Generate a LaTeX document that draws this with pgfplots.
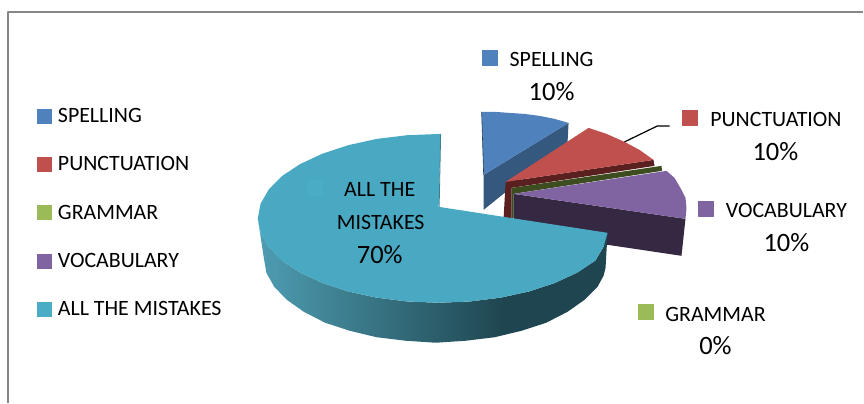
\documentclass[border=0pt]{standalone}
\usepackage{fontspec}
\setmainfont{Carlito}
\usepackage{pgfplots}
\pgfplotsset{compat=1.18}

% office 2007 palette
\definecolor{cblue}{HTML}{4F81BD}
\definecolor{cred}{HTML}{C0504D}
\definecolor{cgreen}{HTML}{9BBB59}
\definecolor{cpurple}{HTML}{8064A2}
\definecolor{cteal}{HTML}{4BACC6}
\definecolor{ctealtop}{HTML}{49A9C3}
\definecolor{wblue}{HTML}{35587F}
\definecolor{wred}{HTML}{5A1F1F}
\definecolor{wgreen}{HTML}{3E4D20}
\definecolor{wpurple}{HTML}{352842}
\definecolor{sidea}{HTML}{4E9DB2}
\definecolor{sideb}{HTML}{1F4650}
\pgfdeclarehorizontalshading{tealside}{100bp}{color(0bp)=(sidea); color(25bp)=(sidea); color(60bp)=(sideb); color(100bp)=(sideb)}

\newcommand{\legsize}{\fontsize{21.9}{24}\selectfont}
\newcommand{\pctsize}{\fontsize{26.5}{30}\selectfont}

\begin{document}
\begin{tikzpicture}
\begin{axis}[
  scale only axis,
  width=864pt, height=403pt,
  xmin=0, xmax=864,
  ymin=0, ymax=403,
  y dir=reverse,
  hide axis,
  clip=false,
  legend style={
    at={(axis cs:37,108.5)}, anchor=north west,
    draw=none, fill=none, inner sep=0pt, outer sep=0pt,
    font=\legsize, row sep=32.6pt,
    nodes={inner sep=0pt, outer sep=0pt},
  },
  legend cell align=left,
  legend image code/.code={
    \fill[#1, draw=none] (0pt,-7.5pt) rectangle (15pt,7.5pt);
    \path[draw=none, fill=none] (0pt,0pt) -- (21pt,0pt);
  },
  every axis plot/.append style={line join=round},
]

% page extent
\path (axis cs:0,0) -- (axis cs:864,403);

% frame, top and left only
\addplot[color=black!47, line width=1.3pt, forget plot]
  coordinates {(8,403) (8,12) (864,12)};

% spelling slice
\addplot[fill=wblue, draw=none, forget plot]
  coordinates {(484,175) (569,123) (568,142) (484,210)} -- cycle;
\addplot[fill=cblue, draw=none, forget plot]
  coordinates {(484,175) (482,112) (496,112) (510,113) (525,114) (540,116) (555,119) (569,123)} -- cycle;
\addplot[color=wblue!70!black, line width=0.6pt, forget plot]
  coordinates {(482,112) (484,175)};

% punctuation slice
\addplot[fill=wred, draw=none, forget plot]
  coordinates {(506,182) (654,160) (655,166) (512,188) (512,218) (504,218)} -- cycle;
\addplot[fill=cred, draw=none, forget plot]
  coordinates {(506,182) (589,128) (607,134) (625,142) (640,150) (654,160)} -- cycle;

% grammar slice, only the wall shows at 0%
\addplot[fill=wgreen, draw=none, forget plot]
  coordinates {(512,188) (662,166) (662.5,171) (514,194) (514,218) (512,218)} -- cycle;

% vocabulary slice
\addplot[fill=wpurple, draw=none, forget plot]
  coordinates {(514,194) (686,219) (682,256) (514,231)} -- cycle;
\addplot[fill=cpurple, draw=none, forget plot]
  coordinates {(514,194) (667,171) (675,178) (682,190) (686,198) (687,208) (686,219)} -- cycle;

% all the mistakes, side then top
\addplot[shade, shading=tealside, draw=none, forget plot]
  coordinates {(258,218.5) (260.8,233.2) (269,247.4) (282.2,260.8) (300.3,272.8) (322.7,283.2)
    (348.5,291.7) (377,297.9) (407.6,301.7) (439,303) (470.4,301.7) (501,297.9) (529.5,291.7)
    (555.3,283.2) (577.7,272.8) (595.8,260.8) (604,247) (608,233)
    (606,268) (604,276) (598,287) (585,300) (568,312) (546.6,323) (522,331) (495,337.5)
    (466,341) (436,343) (406,341) (377,337.5) (350,331) (325.4,323) (304,312) (287,300)
    (274.4,287) (266.6,273) (264,258)} -- cycle;
\addplot[fill=ctealtop, draw=none, forget plot]
  coordinates {(439,207) (441,134) (407.6,135.3) (377,139) (348.5,145.3) (322.7,153.8)
    (300.3,164.2) (282.2,176.2) (269,189.6) (260.8,203.8) (258,218.5) (260.8,233.2) (269,247.4)
    (282.2,260.8) (300.3,272.8) (322.7,283.2) (348.5,291.7) (377,297.9) (407.6,301.7) (439,303)
    (470.4,301.7) (501,297.9) (529.5,291.7) (555.3,283.2) (577.7,272.8) (595.8,260.8) (604,247)
    (608,233)} -- cycle;
\addplot[color=sidea!80!black, line width=0.8pt, forget plot]
  coordinates {(441,134) (439.5,207)};

% leader line
\addplot[color=black, line width=1.2pt, forget plot]
  coordinates {(625,142) (658,126) (670,126)};

% keys beside the data labels
\addplot[only marks, mark=square*, mark size=7.5pt, color=cblue, forget plot]
  coordinates {(490.5,57.5)};
\addplot[only marks, mark=square*, mark size=7.5pt, color=cred, forget plot]
  coordinates {(690.5,117.5)};
\addplot[only marks, mark=square*, mark size=7.5pt, color=cpurple, forget plot]
  coordinates {(706.5,208.5)};
\addplot[only marks, mark=square*, mark size=7.5pt, color=cgreen, forget plot]
  coordinates {(646.5,311.5)};
\addplot[only marks, mark=square*, mark size=7.5pt, color=cteal, forget plot]
  coordinates {(315,188)};

% data labels
\node[font=\legsize, inner sep=0pt] at (axis cs:552,60) {SPELLING};
\node[font=\pctsize, inner sep=0pt] at (axis cs:552,92) {10\%};
\node[font=\legsize, inner sep=0pt] at (axis cs:776.5,120) {PUNCTUATION};
\node[font=\pctsize, inner sep=0pt] at (axis cs:776,152) {10\%};
\node[font=\legsize, inner sep=0pt] at (axis cs:787,210.5) {VOCABULARY};
\node[font=\pctsize, inner sep=0pt] at (axis cs:787,243) {10\%};
\node[font=\legsize, inner sep=0pt] at (axis cs:716,315) {GRAMMAR};
\node[font=\pctsize, inner sep=0pt] at (axis cs:716,346) {0\%};
\node[font=\legsize, inner sep=0pt] at (axis cs:380,190) {ALL THE};
\node[font=\legsize, inner sep=0pt] at (axis cs:381,223) {MISTAKES};
\node[font=\pctsize, inner sep=0pt] at (axis cs:380,255) {70\%};

% legend
\addlegendimage{cblue}\addlegendentry{SPELLING}
\addlegendimage{cred}\addlegendentry{PUNCTUATION}
\addlegendimage{cgreen}\addlegendentry{GRAMMAR}
\addlegendimage{cpurple}\addlegendentry{VOCABULARY}
\addlegendimage{cteal}\addlegendentry{ALL THE MISTAKES}

\end{axis}
\end{tikzpicture}
\end{document}
